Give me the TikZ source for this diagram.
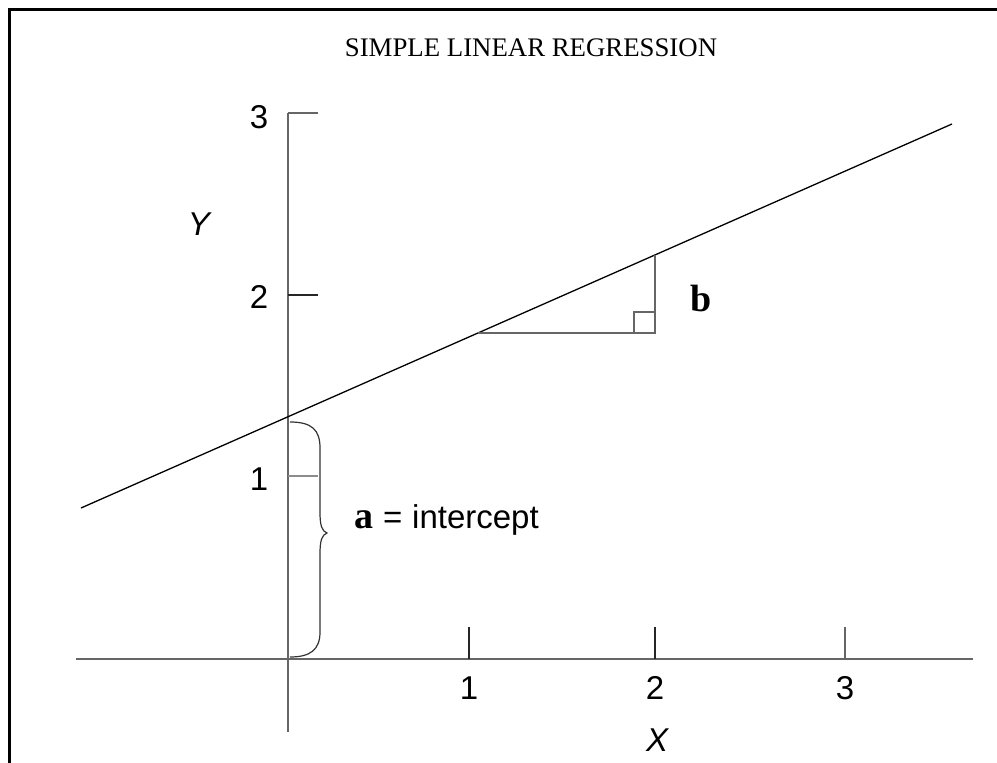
\documentclass[tikz,border=0pt]{standalone}
\usepackage{fontspec}
\setmainfont{Liberation Serif}
\newfontfamily\arial{Liberation Sans}
\begin{document}
\begin{tikzpicture}[x=1pt,y=-1pt,
  axis/.style={draw=black!60,line width=1.7pt},
  tickdark/.style={draw=black!85,line width=1.7pt},
  tickgray/.style={draw=black!45,line width=1.7pt},
  regline/.style={draw=black,line width=1.3pt},
  thin/.style={draw=black!60,line width=1.5pt},
  num/.style={font=\arial\fontsize{33}{36}\selectfont,inner sep=0pt},
  varlab/.style={font=\arial\itshape\fontsize{33}{36}\selectfont,inner sep=0pt},
  boldlab/.style={font=\bfseries\fontsize{38}{42}\selectfont,inner sep=0pt},
  frame/.style={draw=black,line width=3pt}]
\useasboundingbox (0,0) rectangle (997,763);
% frame
\coordinate (F1) at (9,763);
\coordinate (F2) at (9,9);
\coordinate (F3) at (997,9);
\draw[frame] (F1) -- (F2) -- (F3);
% title
\node[font=\fontsize{26.8}{30}\selectfont,inner sep=0pt] (title) at (531,48) {SIMPLE LINEAR REGRESSION};
% axes
\coordinate (O) at (288,659);
\coordinate (yTop) at (288,113);
\coordinate (yBot) at (288,732);
\coordinate (xL) at (76,659);
\coordinate (xR) at (973,659);
\draw[axis] (yTop) -- (yBot);
\draw[axis] (xL) -- (xR);
% y ticks
\coordinate (y3a) at (288,113); \coordinate (y3b) at (318,113);
\coordinate (y2a) at (288,295); \coordinate (y2b) at (318,295);
\coordinate (y1a) at (288,476); \coordinate (y1b) at (318,476);
\draw[axis] (y3a) -- (y3b);
\draw[tickdark] (y2a) -- (y2b);
\draw[tickgray] (y1a) -- (y1b);
\node[num] (ly3) at (259,117) {3};
\node[num] (ly2) at (259,297) {2};
\node[num] (ly1) at (259,479) {1};
% x ticks
\coordinate (x1a) at (469,659); \coordinate (x1b) at (469,627);
\coordinate (x2a) at (655,659); \coordinate (x2b) at (655,627);
\coordinate (x3a) at (845,659); \coordinate (x3b) at (845,627);
\draw[tickdark] (x1a) -- (x1b);
\draw[tickdark] (x2a) -- (x2b);
\draw[axis] (x3a) -- (x3b);
\node[num] (lx1) at (469,688) {1};
\node[num] (lx2) at (655,688) {2};
\node[num] (lx3) at (845,688) {3};
% variable labels
\node[varlab] (Y) at (199,224) {Y};
\node[varlab] (X) at (657,740) {X};
% regression line
\coordinate (L1) at (81,508);
\coordinate (L2) at (952,124);
\draw[regline] (L1) -- (L2);
% slope triangle
\coordinate (T1) at (478,333);
\coordinate (T2) at (655,333);
\coordinate (T3) at (655,255);
\draw[thin] (T1) -- (T2) -- (T3);
\coordinate (S1) at (634,333);
\coordinate (S2) at (634,312);
\coordinate (S3) at (655,312);
\draw[thin] (S1) -- (S2) -- (S3);
\node[boldlab] (b) at (701,298) {b};
% brace
\coordinate (B1) at (290,422);
\coordinate (Bt) at (327,533);
\coordinate (B2) at (290,657);
\draw[draw=black!80,line width=1.2pt] (B1) .. controls (312,422) and (320,430) .. (320,448)
  -- (320,512) .. controls (320,526) and (322,531) .. (Bt)
  .. controls (322,535) and (320,540) .. (320,554)
  -- (320,632) .. controls (320,650) and (310,657) .. (B2);
\node[boldlab,anchor=base west] (alab) at (354,528) {a};
\node[num,anchor=base west] (eq) at (383,528) {=};
\node[num,anchor=base west] (icpt) at (412,528) {intercept};
\end{tikzpicture}
\end{document}
